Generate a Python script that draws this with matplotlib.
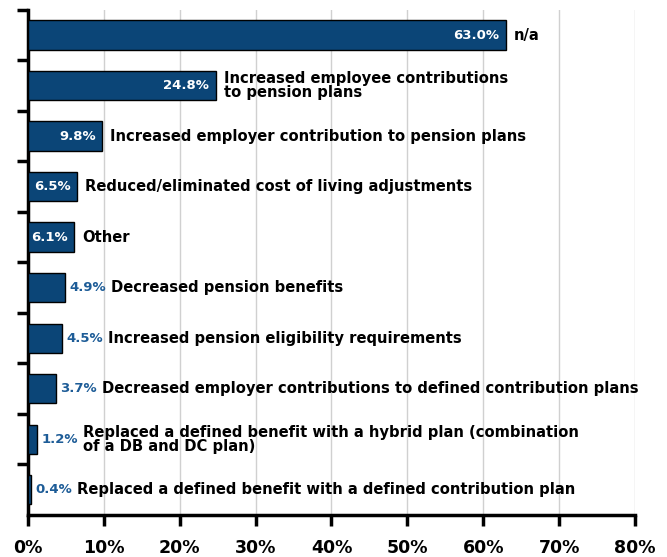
import matplotlib.pyplot as plt

categories = [
    "n/a",
    "Increased employee contributions\nto pension plans",
    "Increased employer contribution to pension plans",
    "Reduced/eliminated cost of living adjustments",
    "Other",
    "Decreased pension benefits",
    "Increased pension eligibility requirements",
    "Decreased employer contributions to defined contribution plans",
    "Replaced a defined benefit with a hybrid plan (combination\nof a DB and DC plan)",
    "Replaced a defined benefit with a defined contribution plan",
]
values = [63.0, 24.8, 9.8, 6.5, 6.1, 4.9, 4.5, 3.7, 1.2, 0.4]
x_ticks = [0, 10, 20, 30, 40, 50, 60, 70, 80]

bar_color = "#0b4577"
out_color = "#1d5c97"
font = "DejaVu Sans"

fig = plt.figure(figsize=(6.67, 5.57), dpi=100)
ax = fig.add_axes([0.042, 0.0754, 0.91, 0.907])

ypos = list(range(len(values)))
ax.barh(ypos, values, height=0.58, color=bar_color, edgecolor="black", linewidth=1, zorder=3)

for y, v, cat in zip(ypos, values, categories):
    lab = f"{v:.1f}%"
    if v >= 6:
        ax.text(v - 0.9, y, lab, color="white", ha="right", va="center",
                fontsize=9.5, fontweight="bold", family=font, zorder=4)
        ax.annotate(cat, xy=(v, y), xytext=(5.5, 0), textcoords="offset points",
                    ha="left", va="center", fontsize=10.6, fontweight="bold",
                    family=font, linespacing=0.9)
    else:
        t = ax.annotate(lab, xy=(v, y), xytext=(3, 0), textcoords="offset points",
                        ha="left", va="center", fontsize=9.5, fontweight="bold",
                        color=out_color, family=font)
        ax.annotate(cat, xy=(1, 0.5), xycoords=t, xytext=(3.5, 0), textcoords="offset points",
                    ha="left", va="center", fontsize=10.6, fontweight="bold",
                    family=font, linespacing=0.9)

ax.set_xlim(0, 80)
ax.set_ylim(len(values) - 0.5, -0.5)
ax.set_xticks(x_ticks)
ax.set_xticklabels([f"{t}%" for t in x_ticks], fontsize=12.5, fontweight="bold", family=font)
ax.set_yticks([i - 0.5 for i in range(len(values))])
ax.set_yticklabels([])
ax.tick_params(axis="both", width=2.5, length=8, direction="out", pad=9)
ax.tick_params(axis="y", pad=2)
ax.grid(axis="x", color="#d0d0d0", linewidth=1, zorder=0)
ax.set_axisbelow(True)
for s in ["top", "right"]:
    ax.spines[s].set_visible(False)
for s in ["left", "bottom"]:
    ax.spines[s].set_linewidth(2.5)

fig.savefig("out.png", dpi=100)
